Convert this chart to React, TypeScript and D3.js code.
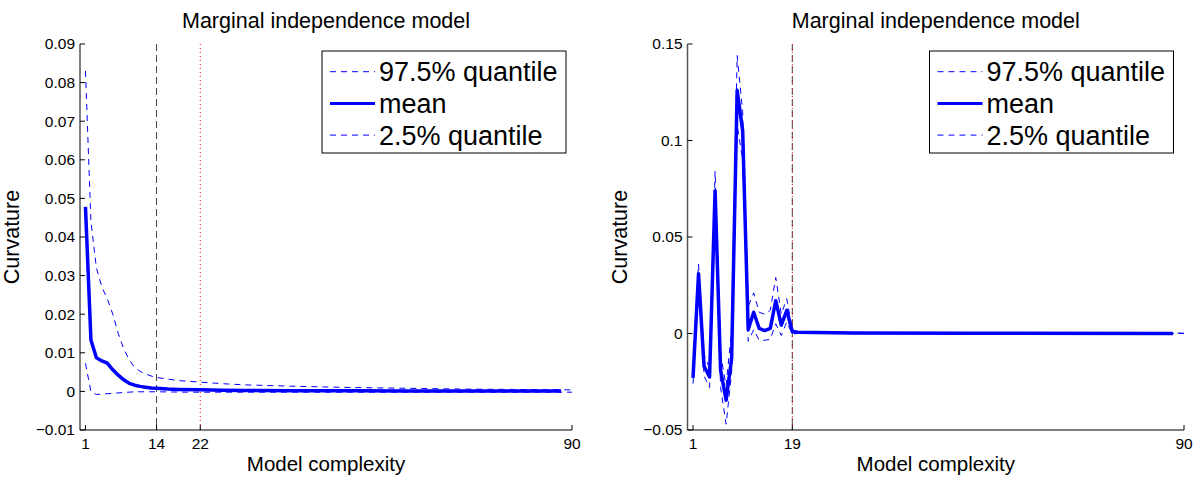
import React from "react";
import * as d3 from "d3";

const W = 1197;
const H = 477;

// left panel: curvature of the marginal independence model (wide x range)
const leftMeanX = [1, 2, 3, 4, 5, 6, 7, 8, 9, 10, 11, 12, 13, 14, 16, 18, 22, 26, 30, 40, 50, 60, 70, 80, 88];
const leftMean = [0.0478, 0.0133, 0.0087, 0.0079, 0.0073, 0.0056, 0.0042, 0.003, 0.0021, 0.0016, 0.0013, 0.0011, 0.0009, 0.0008, 0.0006, 0.0005, 0.0004, 0.0003, 0.00025, 0.0002, 0.00015, 0.00012, 0.0001, 0.0001, 0.0001];
const leftUpperX = [1, 2, 3, 4, 5, 6, 7, 8, 9, 10, 11, 12, 13, 14, 16, 18, 22, 26, 30, 40, 50, 60, 70, 80, 90];
const leftUpper = [0.083, 0.044, 0.032, 0.027, 0.024, 0.02, 0.015, 0.011, 0.0082, 0.0062, 0.0052, 0.0045, 0.004, 0.0036, 0.0032, 0.0028, 0.0024, 0.002, 0.0017, 0.0013, 0.001, 0.0008, 0.0006, 0.0005, 0.0004];
const leftLowerX = [1, 2, 3, 4, 6, 8, 10, 12, 14, 20, 30, 50, 70, 90];
const leftLower = [0.0073, -0.0001, -0.0008, -0.0007, -0.0005, -0.0003, -0.0001, -0.0001, -0.0001, -0.0002, -0.0002, -0.0002, -0.0002, -0.0002];
const leftYTicks = [-0.01, 0, 0.01, 0.02, 0.03, 0.04, 0.05, 0.06, 0.07, 0.08, 0.09];
const leftXTicks = [1, 14, 22, 90];

// right panel
const rightMeanX = [1, 2, 3, 4, 5, 6, 7, 8, 9, 10, 11, 12, 13, 14, 15, 16, 17, 18, 19, 20, 30, 50, 88];
const rightMean = [-0.023, 0.031, -0.017, -0.0225, 0.074, -0.019, -0.0346, -0.013, 0.126, 0.105, 0.002, 0.011, 0.0026, 0.0015, 0.0026, 0.017, 0.0043, 0.012, 0.0009, 0.0006, 0.0003, 0.0001, 0];
const rightUpperX = [1, 2, 3, 4, 5, 6, 7, 8, 9, 10, 11, 12, 13, 14, 15, 16, 17, 18, 19, 20, 30, 60, 90];
const rightUpper = [-0.021, 0.036, -0.011, -0.018, 0.084, -0.011, -0.027, 0.002, 0.144, 0.115, 0.014, 0.021, 0.011, 0.01, 0.012, 0.029, 0.01, 0.018, 0.002, 0.001, 0.0005, 0.0003, 0.0002];
const rightLowerX = [1, 2, 3, 4, 5, 6, 7, 8, 9, 10, 11, 12, 13, 14, 15, 16, 17, 18, 19, 20, 90];
const rightLower = [-0.026, 0.027, -0.022, -0.028, 0.066, -0.028, -0.047, -0.02, 0.108, 0.09, -0.004, 0.002, -0.0035, -0.0035, -0.003, 0.005, -0.001, 0.006, -0.0003, 0, 0];
const rightYTicks = [-0.05, 0, 0.05, 0.1, 0.15];
const rightXTicks = [1, 19, 90];

const legendLabels = ["97.5% quantile", "mean", "2.5% quantile"];

const font = "'Liberation Sans', Arial, Helvetica, sans-serif";
const blue = "#0000ff";

const fmt = (v: number) => (v === 0 ? "0" : String(v).replace("-", "\u2212"));

function Panel(props: any) {
  const { x0, x1, yDomain, yTicks, xTicks, mean, meanX, upper, upperX, lower, lowerX, blackLine, redLine, legendX } = props;
  const top = 44;
  const bottom = 430;
  const x = d3.scaleLinear().domain([0, 90]).range([x0, x1]);
  const y = d3.scaleLinear().domain(yDomain).range([bottom, top]);

  const mk = (xs: number[], ys: number[]) =>
    d3.line<number>().x((d, i) => x(xs[i])).y((d) => y(d))(ys) || "";

  const cx = (x0 + x1) / 2;
  const legendY = 51;

  return (
    <g>
      <text x={cx} y={28} textAnchor="middle" fontSize={21.5} fontFamily={font}>
        Marginal independence model
      </text>

      {/* vertical markers */}
      <line x1={x(blackLine)} x2={x(blackLine)} y1={top} y2={bottom} stroke="#444" strokeWidth={1} strokeDasharray="7,4" />
      <line x1={x(redLine)} x2={x(redLine)} y1={top} y2={bottom} stroke="#ff0000" strokeWidth={1} strokeDasharray="1,3" />

      <path d={mk(upperX, upper)} fill="none" stroke={blue} strokeWidth={1} strokeDasharray="6,5" />
      <path d={mk(lowerX, lower)} fill="none" stroke={blue} strokeWidth={1} strokeDasharray="6,5" />
      <path d={mk(meanX, mean)} fill="none" stroke={blue} strokeWidth={3.5} strokeLinejoin="round" />

      {/* axes */}
      <line x1={x0} x2={x0} y1={top} y2={bottom} stroke="#555" strokeWidth={1.5} />
      <line x1={x0} x2={x1} y1={bottom} y2={bottom} stroke="#000" strokeWidth={1} />
      {yTicks.map((t: number) => (
        <g key={"y" + t}>
          <line x1={x0} x2={x0 + 5} y1={y(t)} y2={y(t)} stroke="#000" />
          <text x={x0 - 5} y={y(t)} dy="0.35em" textAnchor="end" fontSize={15.5} fontFamily={font}>
            {fmt(t)}
          </text>
        </g>
      ))}
      {xTicks.map((t: number) => (
        <g key={"x" + t}>
          <line x1={x(t)} x2={x(t)} y1={bottom} y2={bottom - 5} stroke="#000" />
          <text x={x(t)} y={449} textAnchor="middle" fontSize={15.5} fontFamily={font}>
            {t}
          </text>
        </g>
      ))}
      <text x={cx} y={471} textAnchor="middle" fontSize={20.5} fontFamily={font}>
        Model complexity
      </text>
      <text transform={`translate(${x0 - 61},237) rotate(-90)`} textAnchor="middle" fontSize={21.5} fontFamily={font}>
        Curvature
      </text>

      {/* legend */}
      <rect x={legendX} y={legendY} width={244} height={102} fill="#fff" stroke="#000" strokeWidth={1} />
      {legendLabels.map((lab, i) => {
        const ly = legendY + 20.7 + i * 31.7;
        return (
          <g key={lab}>
            <line
              x1={legendX + 8}
              x2={legendX + 53}
              y1={ly}
              y2={ly}
              stroke={blue}
              strokeWidth={i === 1 ? 3 : 1}
              strokeDasharray={i === 1 ? undefined : "6,5"}
            />
            <text x={legendX + 57} y={ly} dy="0.36em" fontSize={27} fontFamily={font}>
              {lab}
            </text>
          </g>
        );
      })}
    </g>
  );
}

export default function App() {
  return (
    <svg width={W} height={H} style={{ position: "absolute", left: 0, top: 0, background: "#fff" }}>
      <Panel
        x0={80}
        x1={572}
        yDomain={[-0.01, 0.09]}
        yTicks={leftYTicks}
        xTicks={leftXTicks}
        mean={leftMean}
        meanX={leftMeanX}
        upper={leftUpper}
        upperX={leftUpperX}
        lower={leftLower}
        lowerX={leftLowerX}
        blackLine={14}
        redLine={22}
        legendX={322}
      />
      <Panel
        x0={687.5}
        x1={1184}
        yDomain={[-0.05, 0.15]}
        yTicks={rightYTicks}
        xTicks={rightXTicks}
        mean={rightMean}
        meanX={rightMeanX}
        upper={rightUpper}
        upperX={rightUpperX}
        lower={rightLower}
        lowerX={rightLowerX}
        blackLine={19}
        redLine={19}
        legendX={929.5}
      />
    </svg>
  );
}
